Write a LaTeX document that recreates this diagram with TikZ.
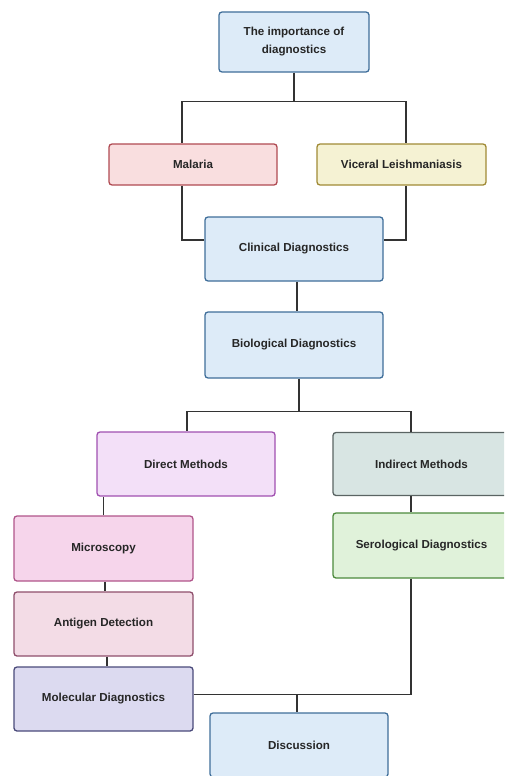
\documentclass[tikz,border=0pt]{standalone}
\usepackage{fontspec}
\setmainfont{Liberation Sans}
\usepackage{tikz}
\usetikzlibrary{positioning}
\definecolor{bluefill}{HTML}{DDEBF8}
\definecolor{blueline}{HTML}{3F6E9A}
\definecolor{redfill}{HTML}{F9DEDF}
\definecolor{redline}{HTML}{B04A52}
\definecolor{yellowfill}{HTML}{F5F2D3}
\definecolor{yellowline}{HTML}{A08A35}
\definecolor{violetfill}{HTML}{F3E0F8}
\definecolor{violetline}{HTML}{A050B0}
\definecolor{greyfill}{HTML}{D8E5E3}
\definecolor{greyline}{HTML}{5A6463}
\definecolor{pinkfill}{HTML}{F6D5EB}
\definecolor{pinkline}{HTML}{B0558A}
\definecolor{rosefill}{HTML}{F3DCE6}
\definecolor{roseline}{HTML}{8F4F6C}
\definecolor{lilacfill}{HTML}{DCDAF0}
\definecolor{lilacline}{HTML}{4A4A7A}
\definecolor{greenfill}{HTML}{E0F2DA}
\definecolor{greenline}{HTML}{4C8A3C}
\definecolor{linkgrey}{HTML}{333333}
\tikzset{
    box/.style = {rectangle, rounded corners=3pt, draw, line width=1.3pt,
        minimum width=178pt, minimum height=64pt, align=center,
        font=\fontsize{11.6}{18}\selectfont\bfseries, text=black!85},
    bluebox/.style = {box, fill=bluefill, draw=blueline},
    redbox/.style = {box, fill=redfill, draw=redline},
    yellowbox/.style = {box, fill=yellowfill, draw=yellowline},
    violetbox/.style = {box, fill=violetfill, draw=violetline},
    greybox/.style = {box, fill=greyfill, draw=greyline},
    pinkbox/.style = {box, fill=pinkfill, draw=pinkline},
    rosebox/.style = {box, fill=rosefill, draw=roseline},
    lilacbox/.style = {box, fill=lilacfill, draw=lilacline},
    greenbox/.style = {box, fill=greenfill, draw=greenline},
    link/.style = {draw=linkgrey, line width=1.4pt}}
\begin{document}
\begin{tikzpicture}[x=1pt, y=1pt, on grid]
    \useasboundingbox (0,0) rectangle (504,-776);
    \clip (0,0) rectangle (504,-776);
    \node[bluebox, minimum width=150pt, minimum height=60pt] (imp) at (294,-42) {The importance of\\diagnostics};
    \node[redbox, minimum width=168pt, minimum height=41pt] (mal) [below left = 122.5pt and 101pt of imp] {Malaria};
    \node[yellowbox, minimum width=169pt, minimum height=41pt] (vl) [right = 208.5pt of mal] {Viceral Leishmaniasis};
    \node[bluebox] (clin) [below = 207pt of imp] {Clinical Diagnostics};
    \node[bluebox, minimum height=66pt] (bio) [below = 96pt of clin] {Biological Diagnostics};
    \node[violetbox] (dir) [below left = 119pt and 108pt of bio] {Direct Methods};
    \node[greybox, minimum width=177pt, minimum height=63pt] (ind) [right = 235.5pt of dir] {Indirect Methods};
    \node[pinkbox, minimum width=179pt, minimum height=65pt] (mic) [below left = 84.5pt and 82.5pt of dir] {Microscopy};
    \node[rosebox, minimum width=179pt] (ant) [below = 75.5pt of mic] {Antigen Detection};
    \node[lilacbox, minimum width=179pt] (mol) [below = 75pt of ant] {Molecular Diagnostics};
    \node[greenbox, minimum width=177pt, minimum height=65pt] (ser) [below = 81.5pt of ind] {Serological Diagnostics};
    \node[bluebox] (dis) [below right = 46pt and 195.5pt of mol] {Discussion};
    % top split
    \coordinate (split1) at ([yshift=-29pt]imp.south);
    \draw[link] (imp.south) -- (split1);
    \draw[link] (split1) -| ([xshift=-11pt]mal.north);
    \draw[link] (split1) -| ([xshift=4.5pt]vl.north);
    \draw[link] ([xshift=-11pt]mal.south) |- ([yshift=9pt]clin.west);
    \draw[link] ([xshift=4.5pt]vl.south) |- ([yshift=9pt]clin.east);
    \draw[link] ([xshift=3pt]clin.south) -- ([xshift=3pt]bio.north);
    % methods split
    \coordinate (split2) at ([xshift=5pt, yshift=-33pt]bio.south);
    \draw[link] ([xshift=5pt]bio.south) -- (split2);
    \draw[link] (split2) -| ([xshift=1pt]dir.north);
    \draw[link] (split2) -| ([xshift=-10.5pt]ind.north);
    \draw[link] (mic.north) -- (mic.north |- dir.south);
    \draw[link] ([xshift=1.5pt]mic.south) -- ([xshift=1.5pt]ant.north);
    \draw[link] ([xshift=3.5pt]ant.south) -- ([xshift=3.5pt]mol.north);
    \draw[link] ([xshift=-10.5pt]ind.south) -- ([xshift=-10.5pt]ser.north);
    % join into discussion
    \coordinate (join) at ([xshift=-2pt, yshift=18pt]dis.north);
    \draw[link] ([xshift=-10.5pt]ser.south) |- (join);
    \draw[link] (mol.east |- join) -- (join) -- ([xshift=-2pt]dis.north);
\end{tikzpicture}
\end{document}
